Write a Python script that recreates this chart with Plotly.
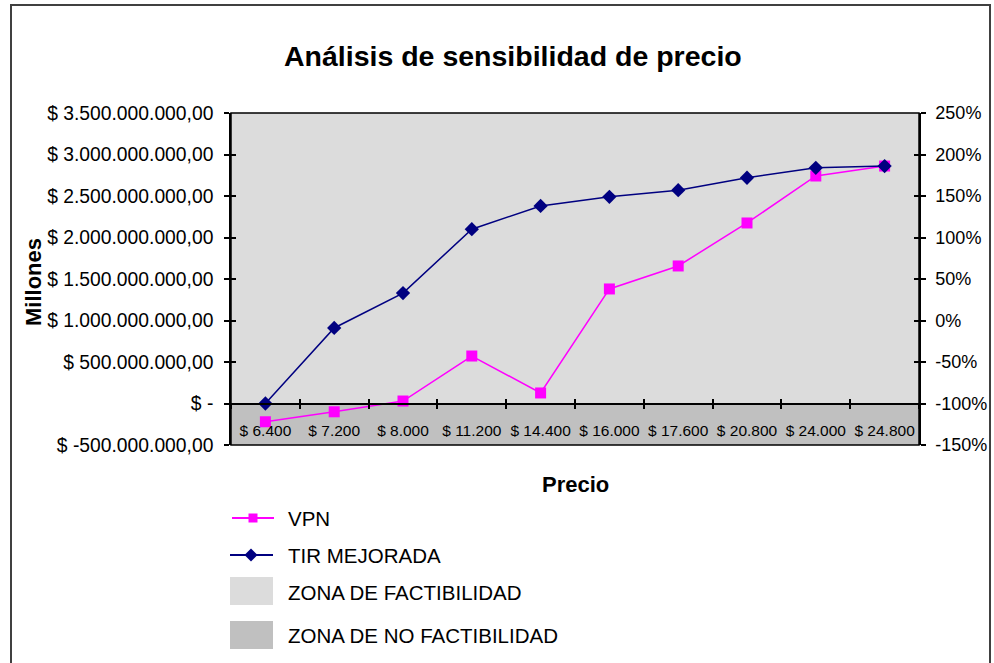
import plotly.graph_objects as go

# ---- data -------------------------------------------------------------
precios = ["$ 6.400", "$ 7.200", "$ 8.000", "$ 11.200", "$ 14.400",
           "$ 16.000", "$ 17.600", "$ 20.800", "$ 24.000", "$ 24.800"]
vpn = [-220e6, -100e6, 30e6, 572e6, 127e6,
       1380e6, 1657e6, 2175e6, 2741e6, 2861e6]
tir_mejorada = [-100, -9, 33, 110, 138, 149, 157, 172, 184, 186]

vpn_ticks = [-500e6, 0, 500e6, 1000e6, 1500e6, 2000e6, 2500e6, 3000e6, 3500e6]
vpn_ticktext = ["$ -500.000.000,00", "$ -", "$ 500.000.000,00",
                "$ 1.000.000.000,00", "$ 1.500.000.000,00",
                "$ 2.000.000.000,00", "$ 2.500.000.000,00",
                "$ 3.000.000.000,00", "$ 3.500.000.000,00"]
tir_ticks = [-150, -100, -50, 0, 50, 100, 150, 200, 250]
tir_ticktext = [f"{v}%" for v in tir_ticks]

legend_labels = ["VPN", "TIR MEJORADA", "ZONA DE FACTIBILIDAD",
                 "ZONA DE NO FACTIBILIDAD"]

# ---- styling ------------------------------------------------------------
W, H = 994, 663
FONT = "Liberation Sans, Arial, sans-serif"
PINK = "#ff00ff"
NAVY = "#000080"
ZONE_OK = "#dcdcdc"
ZONE_NO = "#c0c0c0"

def px(x):
    return x / W

def py(y):
    return (H - y) / H

# plot area in pixels
L, R, T, B = 231, 919, 113, 445
ymin, ymax = vpn_ticks[0], vpn_ticks[-1]
zero_frac = (0 - ymin) / (ymax - ymin)
zero_pos = py(B) + zero_frac * (py(T) - py(B))

fig = go.Figure()

fig.add_trace(go.Scatter(
    x=precios, y=vpn, name="VPN", mode="lines+markers",
    line=dict(color=PINK, width=1.5),
    marker=dict(symbol="square", size=11, color=PINK),
    xaxis="x", yaxis="y", showlegend=False))

fig.add_trace(go.Scatter(
    x=precios, y=tir_mejorada, name="TIR MEJORADA", mode="lines+markers",
    line=dict(color=NAVY, width=1.5),
    marker=dict(symbol="diamond", size=11, color=NAVY),
    xaxis="x", yaxis="y2", showlegend=False))

# empty traces that carry the helper axes used for crossing tick marks
empty = [None] * len(precios)
for xa, ya in (("x2", "y"), ("x", "y4"), ("x", "y5")):
    fig.add_trace(go.Scatter(
        x=precios, y=empty, mode="lines", xaxis=xa, yaxis=ya,
        showlegend=False, hoverinfo="skip"))

# ---- hand-built legend samples (pixel overlay axis) ----------------------
leg_y = [518, 555, 592, 635]
fig.add_trace(go.Scatter(
    x=[232, 274], y=[leg_y[0]] * 2, mode="lines",
    line=dict(color=PINK, width=2), xaxis="x3", yaxis="y3",
    showlegend=False, hoverinfo="skip"))
fig.add_trace(go.Scatter(
    x=[253], y=[leg_y[0]], mode="markers",
    marker=dict(symbol="square", size=9, color=PINK), xaxis="x3", yaxis="y3",
    showlegend=False, hoverinfo="skip"))
fig.add_trace(go.Scatter(
    x=[230, 273], y=[leg_y[1]] * 2, mode="lines",
    line=dict(color=NAVY, width=2), xaxis="x3", yaxis="y3",
    showlegend=False, hoverinfo="skip"))
fig.add_trace(go.Scatter(
    x=[251], y=[leg_y[1]], mode="markers",
    marker=dict(symbol="diamond", size=10, color=NAVY), xaxis="x3", yaxis="y3",
    showlegend=False, hoverinfo="skip"))

shapes = [
    # feasibility zones
    dict(type="rect", xref="x domain", yref="y", x0=0, x1=1, y0=0, y1=ymax,
         fillcolor=ZONE_OK, line=dict(width=0), layer="below"),
    dict(type="rect", xref="x domain", yref="y", x0=0, x1=1, y0=ymin, y1=0,
         fillcolor=ZONE_NO, line=dict(width=0), layer="below"),
    # plot-area border
    dict(type="rect", xref="paper", yref="paper",
         x0=px(L), x1=px(R), y0=py(B), y1=py(T),
         line=dict(color="#000000", width=1.5), fillcolor="rgba(0,0,0,0)"),
    # outer chart frame
    dict(type="rect", xref="paper", yref="paper",
         x0=px(11), x1=px(990), y0=-0.2, y1=py(5),
         line=dict(color="#404040", width=2), fillcolor="rgba(0,0,0,0)"),
    # legend swatches
    dict(type="rect", xref="paper", yref="paper",
         x0=px(230), x1=px(273), y0=py(605), y1=py(577),
         fillcolor=ZONE_OK, line=dict(width=0)),
    dict(type="rect", xref="paper", yref="paper",
         x0=px(230), x1=px(273), y0=py(649), y1=py(621),
         fillcolor=ZONE_NO, line=dict(width=0)),
]

annotations = [
    dict(text="<b>Análisis de sensibilidad de precio</b>", x=px(513), y=py(56),
         xref="paper", yref="paper", showarrow=False,
         font=dict(size=28.5, color="#000000", family=FONT),
         xanchor="center", yanchor="middle"),
    dict(text="<b>Precio</b>", x=px(575), y=py(484),
         xref="paper", yref="paper", showarrow=False,
         font=dict(size=22, color="#000000", family=FONT),
         xanchor="center", yanchor="middle"),
    dict(text="<b>Millones</b>", x=px(33), y=py(282), textangle=-90,
         xref="paper", yref="paper", showarrow=False,
         font=dict(size=22, color="#000000", family=FONT),
         xanchor="center", yanchor="middle"),
]
for label, yy in zip(legend_labels, leg_y):
    annotations.append(dict(
        text=label, x=px(286), y=py(yy), xref="paper", yref="paper",
        showarrow=False, xanchor="left", yanchor="middle",
        font=dict(size=20.5, color="#000000", family=FONT)))

left_font = dict(size=19.3, color="#000000", family=FONT)
right_font = dict(size=18, color="#000000", family=FONT)
tick_style = dict(ticklen=5, tickwidth=1.5, tickcolor="#000000",
                  showgrid=False, zeroline=False, automargin=False)

fig.update_layout(
    width=W, height=H,
    margin=dict(l=0, r=0, t=0, b=0, autoexpand=False),
    paper_bgcolor="#ffffff",
    plot_bgcolor="rgba(0,0,0,0)",
    font=dict(family=FONT, color="#000000"),
    showlegend=False,
    xaxis=dict(
        domain=[px(L), px(R)], type="category", categoryarray=precios,
        range=[-0.5, len(precios) - 0.5],
        anchor="free", position=zero_pos, tickangle=0,
        showline=True, linecolor="#000000", linewidth=1.5,
        ticks="outside", tickson="boundaries",
        tickfont=dict(size=15.5, color="#000000", family=FONT),
        ticklabelstandoff=13, **tick_style,
    ),
    xaxis2=dict(
        domain=[px(L), px(R)], type="category", categoryarray=precios,
        range=[-0.5, len(precios) - 0.5], overlaying="x",
        anchor="free", position=zero_pos, side="bottom",
        showline=False, ticks="inside", tickson="boundaries",
        showticklabels=False, **tick_style,
    ),
    yaxis=dict(
        domain=[py(B), py(T)], range=[ymin, ymax], anchor="x",
        tickvals=vpn_ticks, ticktext=vpn_ticktext, tickfont=left_font,
        showline=True, linecolor="#000000", linewidth=1.5,
        ticks="outside", ticklabelstandoff=7, **tick_style,
    ),
    yaxis4=dict(
        domain=[py(B), py(T)], range=[ymin, ymax], anchor="x",
        overlaying="y", side="left", tickvals=vpn_ticks,
        showticklabels=False, showline=False, ticks="inside", **tick_style,
    ),
    yaxis2=dict(
        domain=[py(B), py(T)], range=[tir_ticks[0], tir_ticks[-1]],
        overlaying="y", side="right", anchor="x",
        tickvals=tir_ticks, ticktext=tir_ticktext, tickfont=right_font,
        showline=True, linecolor="#000000", linewidth=1.5,
        ticks="outside", ticklabelstandoff=6, **tick_style,
    ),
    yaxis5=dict(
        domain=[py(B), py(T)], range=[tir_ticks[0], tir_ticks[-1]],
        overlaying="y", side="right", anchor="x", tickvals=tir_ticks,
        showticklabels=False, showline=False, ticks="inside", **tick_style,
    ),
    xaxis3=dict(domain=[0, 1], range=[0, W], visible=False, anchor="y3",
                fixedrange=True, automargin=False),
    yaxis3=dict(domain=[0, 1], range=[H, 0], visible=False, anchor="x3",
                fixedrange=True, automargin=False),
    shapes=shapes,
    annotations=annotations,
)

fig.write_html("out.html")
